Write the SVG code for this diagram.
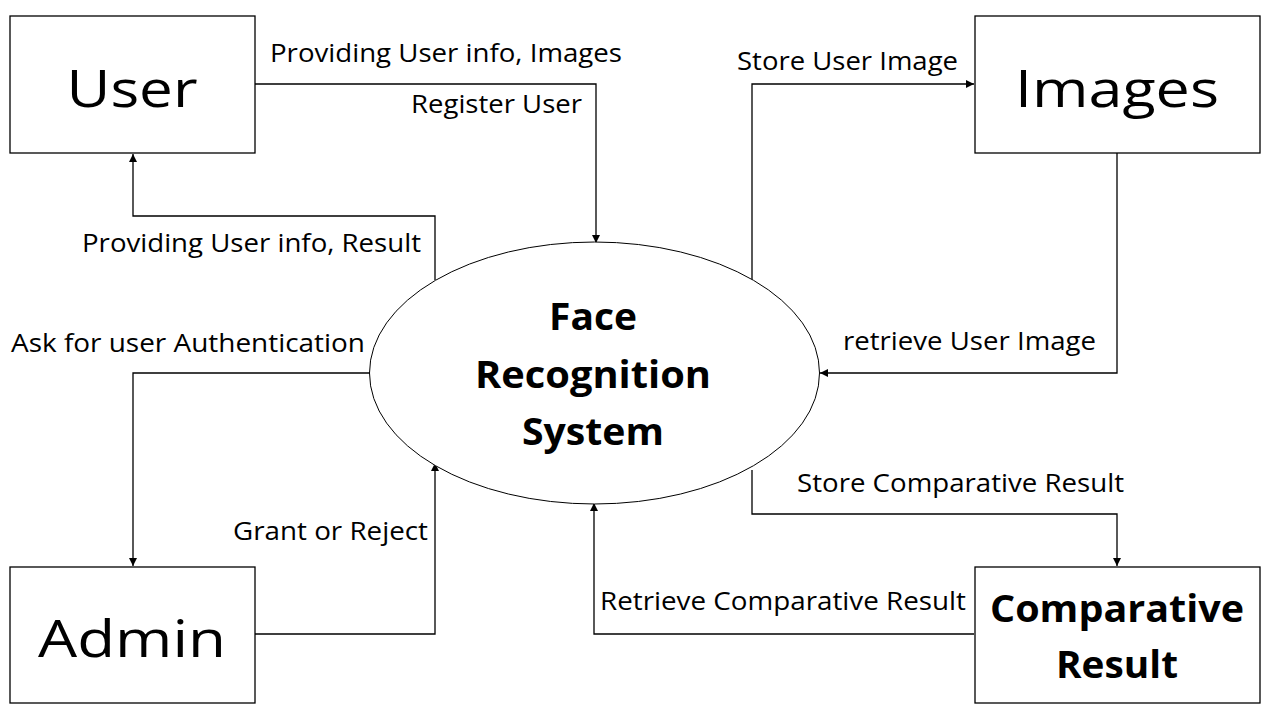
<svg xmlns="http://www.w3.org/2000/svg" width="1280" height="720" viewBox="0 0 1280 720">
<defs>
<marker id="arr" viewBox="0 0 10 10" refX="10" refY="5" markerWidth="8" markerHeight="8" markerUnits="userSpaceOnUse" orient="auto">
<path d="M0,0 L10,5 L0,10 z" fill="#000"/>
</marker>
<style>
.box{fill:#fff;stroke:#000;stroke-width:1.3}
.ell{fill:#fff;stroke:#000;stroke-width:1}
.con{fill:none;stroke:#000;stroke-width:1.3;marker-end:url(#arr)}
.lbl{font-family:"Open Sans","Liberation Sans",sans-serif;font-size:26px;fill:#000}
.big{font-family:"Open Sans","Liberation Sans",sans-serif;font-size:52px;fill:#000;text-anchor:middle}
.bold{font-family:"Open Sans","Liberation Sans",sans-serif;font-size:38px;font-weight:bold;fill:#000;text-anchor:middle}
</style>
</defs>
<rect width="1280" height="720" fill="#fff"/>
<g id="connectors">
<polyline class="con" points="255,84 596,84 596,243"/>
<polyline class="con" points="435,280 435,216 133,216 133,154"/>
<polyline class="con" points="370,373 133,373 133,566"/>
<polyline class="con" points="255,634 435,634 435,463"/>
<polyline class="con" points="752,280 752,84 974,84"/>
<polyline class="con" points="1117,153 1117,373 820,373"/>
<polyline class="con" points="752,470 752,514 1117,514 1117,566"/>
<polyline class="con" points="974,634 594,634 594,503"/>
</g>
<g id="labels">
<text class="lbl" x="270" y="62" textLength="352" lengthAdjust="spacingAndGlyphs">Providing User info, Images</text>
<text class="lbl" x="411" y="113" textLength="171" lengthAdjust="spacingAndGlyphs">Register User</text>
<text class="lbl" x="82" y="252" textLength="339" lengthAdjust="spacingAndGlyphs">Providing User info, Result</text>
<text class="lbl" x="11" y="352" textLength="354" lengthAdjust="spacingAndGlyphs">Ask for user Authentication</text>
<text class="lbl" x="233" y="540" textLength="195" lengthAdjust="spacingAndGlyphs">Grant or Reject</text>
<text class="lbl" x="737" y="70" textLength="221" lengthAdjust="spacingAndGlyphs">Store User Image</text>
<text class="lbl" x="843" y="350" textLength="253" lengthAdjust="spacingAndGlyphs">retrieve User Image</text>
<text class="lbl" x="797" y="492" textLength="327" lengthAdjust="spacingAndGlyphs">Store Comparative Result</text>
<text class="lbl" x="600" y="610" textLength="366" lengthAdjust="spacingAndGlyphs">Retrieve Comparative Result</text>
</g>
<g id="user">
<rect class="box" x="10" y="16" width="245" height="137"/>
<text class="big" x="132" y="107" textLength="131" lengthAdjust="spacingAndGlyphs">User</text>
</g>
<g id="images">
<rect class="box" x="975" y="16" width="285" height="137"/>
<text class="big" x="1117" y="107" textLength="204" lengthAdjust="spacingAndGlyphs">Images</text>
</g>
<g id="admin">
<rect class="box" x="10" y="567" width="245" height="136"/>
<text class="big" x="132" y="657" textLength="188" lengthAdjust="spacingAndGlyphs">Admin</text>
</g>
<g id="comparative">
<rect class="box" x="975" y="567" width="285" height="136"/>
<text class="bold" x="1117" y="622" textLength="254" lengthAdjust="spacingAndGlyphs">Comparative</text>
<text class="bold" x="1117" y="678" textLength="122" lengthAdjust="spacingAndGlyphs">Result</text>
</g>
<g id="frs">
<ellipse class="ell" cx="594.5" cy="373" rx="225" ry="131"/>
<text class="bold" x="593" y="330" textLength="88" lengthAdjust="spacingAndGlyphs">Face</text>
<text class="bold" x="593" y="388" textLength="236" lengthAdjust="spacingAndGlyphs">Recognition</text>
<text class="bold" x="593" y="445" textLength="142" lengthAdjust="spacingAndGlyphs">System</text>
</g>
</svg>
